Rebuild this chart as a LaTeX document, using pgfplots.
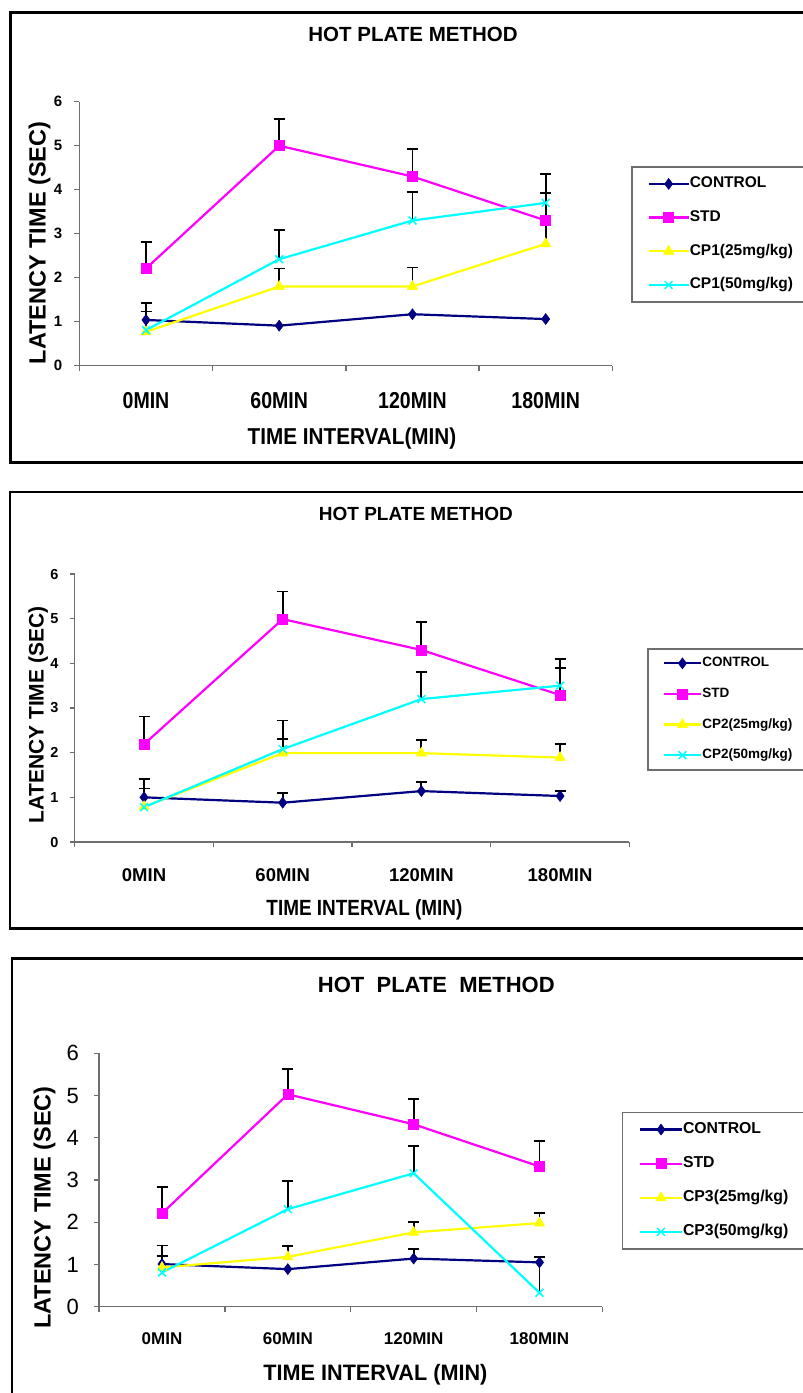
\documentclass[border=0pt]{standalone}
\usepackage{pgfplots}
\pgfplotsset{compat=1.18}
\usepackage{fontspec}
\setmainfont{Liberation Sans}
\definecolor{cnavy}{RGB}{0,0,128}
\definecolor{cmag}{RGB}{255,0,255}
\definecolor{cyel}{RGB}{255,255,0}
\definecolor{ccyan}{RGB}{0,255,255}
\definecolor{axgray}{RGB}{110,110,110}
\pgfplotsset{
  hp/.style={
    scale only axis, xmin=-0.5, xmax=3.5, ymin=0, ymax=6,
    axis x line=bottom, axis y line=left,
    axis line style={-, draw=axgray, line width=1.4pt},
    tick align=outside, major tick length=5pt,
    tick style={draw=axgray, line width=1.4pt},
    ytick={0,...,6}, xtick={-0.5,0.5,1.5,2.5,3.5}, xticklabels={},
    extra x ticks={0,1,2,3}, extra x tick labels={0MIN,60MIN,120MIN,180MIN},
    extra x tick style={major tick length=0pt},
    clip=false, legend cell align=left,
    /pgf/number format/assume math mode=true,
  },
  errb/.style={forget plot, draw=none, mark=none,
    error bars/.cd, y dir=plus, y explicit,
    error bar style={draw=black, line width=1.8pt, solid},
    error mark options={rotate=90, draw=black, line width=1.8pt, mark size=5.5pt}},
  ctrlS/.style={color=cnavy, line width=2.2pt, mark=diamond*, mark size=5.5pt, mark options={solid, line width=0.5pt, fill=cnavy}},
  stdS/.style={color=cmag, line width=2.2pt, mark=square*, mark size=5pt, mark options={solid, line width=0.5pt, fill=cmag}},
  aS/.style={color=cyel, line width=2.2pt, mark=triangle*, mark size=6pt, mark options={solid, line width=0.5pt, fill=cyel}},
  bS/.style={color=ccyan, line width=2.2pt, mark=x, mark size=5.5pt, mark options={solid, line width=1.5pt}},
}
\begin{document}
\begin{tikzpicture}
\useasboundingbox (0,0) rectangle (803pt,-1393pt);
\draw[line width=2.5pt] (10.7pt,-12.7pt) rectangle (820pt,-462.3pt);
\draw[line width=2.5pt] (10pt,-492pt) rectangle (820pt,-928.3pt);
\draw[line width=2.5pt] (12pt,-958.3pt) rectangle (820pt,-1420pt);

% ---------------- Panel 1
\begin{axis}[hp, at={(79.4pt,-365.7pt)}, anchor=south west, width=532.9pt, height=264pt,
  title={HOT PLATE METHOD},
  title style={at={(axis description cs:0.626,1.227)}, anchor=base, yshift=-6pt, inner sep=0pt, font=\fontsize{20.5}{24}\selectfont\bfseries},
  xlabel={TIME INTERVAL(MIN)},
  xlabel style={at={(axis description cs:0.5115,-0.300)}, anchor=base, inner sep=0pt, xscale=0.9, font=\fontsize{23}{26}\selectfont\bfseries},
  ylabel={LATENCY TIME (SEC)},
  ylabel style={at={(axis description cs:-0.0636,0.465)}, anchor=base, inner sep=0pt, font=\fontsize{23.5}{26}\selectfont\bfseries},
  xticklabel style={anchor=base, yshift=-42.6pt, inner sep=0pt, xscale=0.85, font=\fontsize{23}{26}\selectfont\bfseries},
  yticklabel style={anchor=east, inner sep=0pt, xshift=-12pt, font=\fontsize{15}{17}\selectfont\bfseries},
  legend image code/.code={\draw[mark repeat=2,mark phase=2] plot coordinates {(0pt,0pt)(20pt,0pt)(40pt,0pt)};},
  legend style={at={(axis description cs:1.0351,0.7564)}, anchor=north west, draw=axgray, line width=1.7pt,
    inner xsep=15.7pt, inner ysep=9pt, row sep=17.7pt, font=\fontsize{15.5}{18}\selectfont\bfseries,
    nodes={inner sep=0pt, text height=12pt, text depth=4pt, text width=150pt},
    /tikz/every even column/.append style={column sep=5pt}},
]
\addplot[errb] coordinates {(0,1.04) +- (0,0.19)};
\addplot[errb] coordinates {(0,2.21) +- (0,0.61) (1,5.00) +- (0,0.61) (2,4.30) +- (0,0.62) (3,3.30) +- (0,0.63)};
\addplot[errb] coordinates {(0,0.77) +- (0,0.65) (1,1.80) +- (0,0.41) (2,1.80) +- (0,0.43) (3,2.77) +- (0,0.55)};
\addplot[errb] coordinates {(1,2.42) +- (0,0.66) (2,3.30) +- (0,0.65) (3,3.70) +- (0,0.66)};
\addplot[ctrlS] coordinates {(0,1.04) (1,0.91) (2,1.17) (3,1.06)};
\addplot[stdS] coordinates {(0,2.21) (1,5.00) (2,4.30) (3,3.30)};
\addplot[aS] coordinates {(0,0.77) (1,1.80) (2,1.80) (3,2.77)};
\addplot[bS] coordinates {(0,0.81) (1,2.42) (2,3.30) (3,3.70)};
\legend{CONTROL,STD,CP1(25mg/kg),CP1(50mg/kg)}
\end{axis}

% ---------------- Panel 2
\begin{axis}[hp, at={(74.7pt,-842pt)}, anchor=south west, width=554.7pt, height=268pt,
  title={HOT PLATE METHOD},
  title style={at={(axis description cs:0.615,1.2015)}, anchor=base, yshift=-6pt, inner sep=0pt, font=\fontsize{19}{22}\selectfont\bfseries},
  xlabel={TIME INTERVAL (MIN)},
  xlabel style={at={(axis description cs:0.5223,-0.275)}, anchor=base, inner sep=0pt, xscale=0.86, font=\fontsize{22}{25}\selectfont\bfseries},
  ylabel={LATENCY TIME (SEC)},
  ylabel style={at={(axis description cs:-0.0562,0.4746)}, anchor=base, inner sep=0pt, font=\fontsize{21}{24}\selectfont\bfseries},
  xticklabel style={anchor=base, yshift=-39.7pt, inner sep=0pt, font=\fontsize{18.5}{21}\selectfont\bfseries},
  yticklabel style={anchor=east, inner sep=0pt, xshift=-11pt, font=\fontsize{14.5}{16}\selectfont\bfseries},
  legend image code/.code={\draw[mark repeat=2,mark phase=2] plot coordinates {(0pt,0pt)(18.8pt,0pt)(37.6pt,0pt)};},
  legend style={at={(axis description cs:1.0317,0.7239)}, anchor=north west, draw=axgray, line width=1.7pt,
    inner xsep=14.7pt, inner ysep=7.5pt, row sep=16.6pt, font=\fontsize{13.5}{16}\selectfont\bfseries,
    nodes={inner sep=0pt, text height=10.5pt, text depth=3.5pt, text width=150pt},
    /tikz/every even column/.append style={column sep=4pt}},
]
\addplot[errb] coordinates {(0,1.00) +- (0,0.20) (1,0.88) +- (0,0.21) (2,1.14) +- (0,0.20) (3,1.03) +- (0,0.12)};
\addplot[errb] coordinates {(0,2.19) +- (0,0.62) (1,4.99) +- (0,0.62) (2,4.30) +- (0,0.63) (3,3.29) +- (0,0.61)};
\addplot[errb] coordinates {(0,0.79) +- (0,0.62) (1,1.99) +- (0,0.31) (2,1.99) +- (0,0.29) (3,1.89) +- (0,0.30)};
\addplot[errb] coordinates {(1,2.08) +- (0,0.64) (2,3.20) +- (0,0.61) (3,3.50) +- (0,0.60)};
\addplot[ctrlS] coordinates {(0,1.00) (1,0.88) (2,1.14) (3,1.03)};
\addplot[stdS] coordinates {(0,2.19) (1,4.99) (2,4.30) (3,3.29)};
\addplot[aS] coordinates {(0,0.79) (1,1.99) (2,1.99) (3,1.89)};
\addplot[bS] coordinates {(0,0.78) (1,2.08) (2,3.20) (3,3.50)};
\legend{CONTROL,STD,CP2(25mg/kg),CP2(50mg/kg)}
\end{axis}

% ---------------- Panel 3
\begin{axis}[hp, at={(99.1pt,-1306.7pt)}, anchor=south west, width=503.3pt, height=253.4pt,
  title={HOT\ \ PLATE\ \ METHOD},
  title style={at={(axis description cs:0.670,1.2407)}, anchor=base, yshift=-6pt, inner sep=0pt, font=\fontsize{22}{25}\selectfont\bfseries},
  xlabel={TIME INTERVAL (MIN)},
  xlabel style={at={(axis description cs:0.549,-0.2893)}, anchor=base, inner sep=0pt, xscale=0.97, font=\fontsize{22.3}{25}\selectfont\bfseries},
  ylabel={LATENCY TIME (SEC)},
  ylabel style={at={(axis description cs:-0.0964,0.3915)}, anchor=base, inner sep=0pt, font=\fontsize{23.5}{26}\selectfont\bfseries},
  xticklabel style={anchor=base, yshift=-37.6pt, inner sep=0pt, font=\fontsize{17}{20}\selectfont\bfseries},
  yticklabel style={anchor=east, inner sep=0pt, xshift=-15pt, font=\fontsize{22}{25}\selectfont},
  legend image code/.code={\draw[mark repeat=2,mark phase=2] plot coordinates {(0pt,0pt)(20.8pt,0pt)(41.7pt,0pt)};},
  legend style={at={(axis description cs:1.0383,0.7695)}, anchor=north west, draw=axgray, line width=1.7pt,
    inner xsep=16.6pt, inner ysep=9pt, row sep=18.1pt, font=\fontsize{15.8}{18}\selectfont\bfseries,
    nodes={inner sep=0pt, text height=12pt, text depth=4pt, text width=150pt},
    /tikz/every even column/.append style={column sep=6pt}},
]
\addplot[errb] coordinates {(0,1.01) +- (0,0.19) (2,1.14) +- (0,0.23) (3,1.05) +- (0,0.13)};
\addplot[errb] coordinates {(0,2.21) +- (0,0.62) (1,5.03) +- (0,0.59) (2,4.32) +- (0,0.59) (3,3.32) +- (0,0.61)};
\addplot[errb] coordinates {(0,0.93) +- (0,0.52) (1,1.18) +- (0,0.26) (2,1.76) +- (0,0.25) (3,1.98) +- (0,0.23)};
\addplot[errb] coordinates {(1,2.31) +- (0,0.67) (2,3.16) +- (0,0.65) (3,0.33) +- (0,0.85)};
\addplot[ctrlS] coordinates {(0,1.01) (1,0.89) (2,1.14) (3,1.05)};
\addplot[stdS] coordinates {(0,2.21) (1,5.03) (2,4.32) (3,3.32)};
\addplot[aS] coordinates {(0,0.93) (1,1.18) (2,1.76) (3,1.98)};
\addplot[bS] coordinates {(0,0.81) (1,2.31) (2,3.16) (3,0.33)};
\legend{CONTROL,STD,CP3(25mg/kg),CP3(50mg/kg)}
\end{axis}
\end{tikzpicture}
\end{document}
